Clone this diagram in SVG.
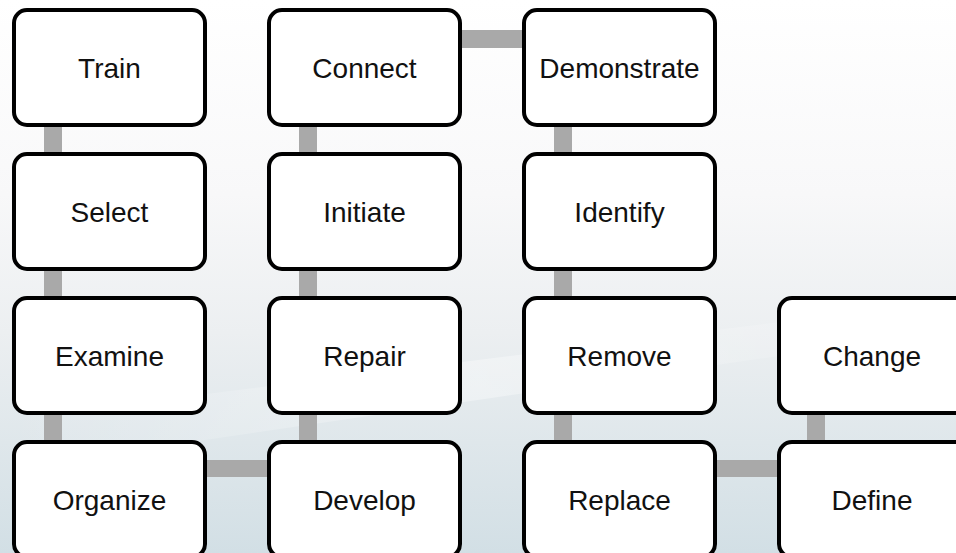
<svg xmlns="http://www.w3.org/2000/svg" width="956" height="553" viewBox="0 0 956 553">
<defs>
<linearGradient id="bg" x1="0" y1="0" x2="0" y2="1">
<stop offset="0" stop-color="#ffffff"/>
<stop offset="0.35" stop-color="#f8f8f9"/>
<stop offset="0.6" stop-color="#eceff1"/>
<stop offset="1" stop-color="#d2dfe5"/>
</linearGradient>
<linearGradient id="streak" x1="0" y1="0" x2="1" y2="0">
<stop offset="0" stop-color="#ffffff" stop-opacity="0"/>
<stop offset="0.5" stop-color="#ffffff" stop-opacity="0.35"/>
<stop offset="1" stop-color="#ffffff" stop-opacity="0"/>
</linearGradient>
</defs>
<style>
.box{fill:#ffffff;stroke:#000000;stroke-width:4}
.lbl{font-family:"Liberation Sans",Arial,sans-serif;font-size:28px;fill:#111111;text-anchor:middle}
.con{fill:#a9a9a9}
</style>
<rect x="0" y="0" width="956" height="553" fill="url(#bg)"/>
<polygon points="0,420 956,300 956,330 0,470" fill="url(#streak)"/>
<g id="connectors">
<rect class="con" x="44" y="120" width="18" height="40"/>
<rect class="con" x="44" y="264" width="18" height="40"/>
<rect class="con" x="44" y="408" width="18" height="40"/>
<rect class="con" x="299" y="120" width="18" height="40"/>
<rect class="con" x="299" y="264" width="18" height="40"/>
<rect class="con" x="299" y="408" width="18" height="40"/>
<rect class="con" x="554" y="120" width="18" height="40"/>
<rect class="con" x="554" y="264" width="18" height="40"/>
<rect class="con" x="554" y="408" width="18" height="40"/>
<rect class="con" x="807" y="408" width="18" height="40"/>
<rect class="con" x="200" y="460" width="75" height="17"/>
<rect class="con" x="710" y="460" width="75" height="17"/>
<rect class="con" x="455" y="30" width="75" height="18"/>
</g>
<g id="train"><rect class="box" x="14" y="10" width="191" height="115" rx="13"/><text class="lbl" x="109.5" y="77.5">Train</text></g>
<g id="select"><rect class="box" x="14" y="154" width="191" height="115" rx="13"/><text class="lbl" x="109.5" y="221.5">Select</text></g>
<g id="examine"><rect class="box" x="14" y="298" width="191" height="115" rx="13"/><text class="lbl" x="109.5" y="365.5">Examine</text></g>
<g id="organize"><rect class="box" x="14" y="442" width="191" height="115" rx="13"/><text class="lbl" x="109.5" y="509.5">Organize</text></g>
<g id="connect"><rect class="box" x="269" y="10" width="191" height="115" rx="13"/><text class="lbl" x="364.5" y="77.5">Connect</text></g>
<g id="initiate"><rect class="box" x="269" y="154" width="191" height="115" rx="13"/><text class="lbl" x="364.5" y="221.5">Initiate</text></g>
<g id="repair"><rect class="box" x="269" y="298" width="191" height="115" rx="13"/><text class="lbl" x="364.5" y="365.5">Repair</text></g>
<g id="develop"><rect class="box" x="269" y="442" width="191" height="115" rx="13"/><text class="lbl" x="364.5" y="509.5">Develop</text></g>
<g id="demonstrate"><rect class="box" x="524" y="10" width="191" height="115" rx="13"/><text class="lbl" x="619.5" y="77.5">Demonstrate</text></g>
<g id="identify"><rect class="box" x="524" y="154" width="191" height="115" rx="13"/><text class="lbl" x="619.5" y="221.5">Identify</text></g>
<g id="remove"><rect class="box" x="524" y="298" width="191" height="115" rx="13"/><text class="lbl" x="619.5" y="365.5">Remove</text></g>
<g id="replace"><rect class="box" x="524" y="442" width="191" height="115" rx="13"/><text class="lbl" x="619.5" y="509.5">Replace</text></g>
<g id="change"><rect class="box" x="779" y="298" width="191" height="115" rx="13"/><text class="lbl" x="872" y="365.5">Change</text></g>
<g id="define"><rect class="box" x="779" y="442" width="191" height="115" rx="13"/><text class="lbl" x="872" y="509.5">Define</text></g>
</svg>
